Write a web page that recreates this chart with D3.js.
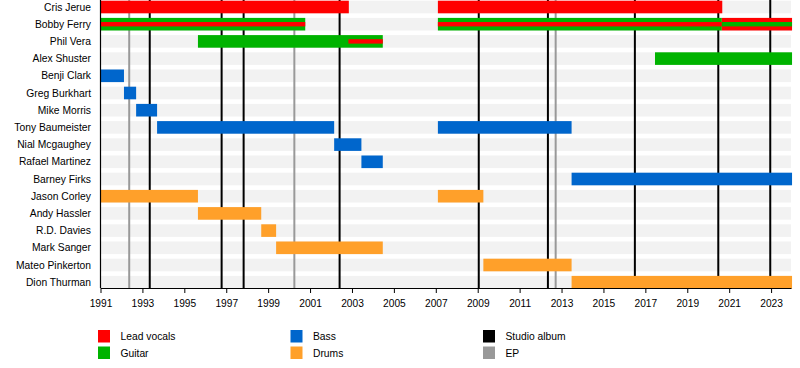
<!DOCTYPE html>
<html>
<head>
<meta charset="utf-8">
<script src="https://cdn.jsdelivr.net/npm/d3@7"></script>
<style>
  body { margin: 0; background: #fff; }
  text { font-family: "Liberation Sans", Arial, sans-serif; }
</style>
</head>
<body>
<div id="chart"></div>
<script>
// Membres, dans l'ordre d'affichage
const members = [
  "Cris Jerue", "Bobby Ferry", "Phil Vera", "Alex Shuster", "Benji Clark",
  "Greg Burkhart", "Mike Morris", "Tony Baumeister", "Nial Mcgaughey",
  "Rafael Martinez", "Barney Firks", "Jason Corley", "Andy Hassler",
  "R.D. Davies", "Mark Sanger", "Mateo Pinkerton", "Dion Thurman"
];

const roles = ["Lead vocals", "Guitar", "Bass", "Drums"];
const roleColors = ["#ff0000", "#00b300", "#0066cc", "#ffa02a"];

// Périodes principales : [membre, rôle, début, fin]
const stints = [
  ["Cris Jerue", "Lead vocals", 1991, 2002.85],
  ["Cris Jerue", "Lead vocals", 2007.1, 2020.67],
  ["Bobby Ferry", "Guitar", 1991, 2000.77],
  ["Bobby Ferry", "Guitar", 2007.1, 2020.65],
  ["Bobby Ferry", "Lead vocals", 2020.65, 2024],
  ["Phil Vera", "Guitar", 1995.65, 2004.47],
  ["Alex Shuster", "Guitar", 2017.46, 2024],
  ["Benji Clark", "Bass", 1991, 1992.12],
  ["Greg Burkhart", "Bass", 1992.12, 1992.7],
  ["Mike Morris", "Bass", 1992.7, 1993.7],
  ["Tony Baumeister", "Bass", 1993.7, 2002.15],
  ["Tony Baumeister", "Bass", 2007.1, 2013.48],
  ["Nial Mcgaughey", "Bass", 2002.15, 2003.45],
  ["Rafael Martinez", "Bass", 2003.45, 2004.47],
  ["Barney Firks", "Bass", 2013.48, 2024],
  ["Jason Corley", "Drums", 1991, 1995.65],
  ["Jason Corley", "Drums", 2007.1, 2009.27],
  ["Andy Hassler", "Drums", 1995.65, 1998.67],
  ["R.D. Davies", "Drums", 1998.67, 1999.38],
  ["Mark Sanger", "Drums", 1999.38, 2004.47],
  ["Mateo Pinkerton", "Drums", 2009.27, 2013.48],
  ["Dion Thurman", "Drums", 2013.48, 2024]
];

// Rôles secondaires (bande fine au milieu)
const secondary = [
  ["Bobby Ferry", "Lead vocals", 1991, 2000.77],
  ["Bobby Ferry", "Lead vocals", 2007.1, 2020.65],
  ["Bobby Ferry", "Guitar", 2020.65, 2024],
  ["Phil Vera", "Lead vocals", 2002.83, 2004.47]
];

// Sorties
const studioAlbums = [1993.35, 1996.78, 1997.83, 2002.41, 2009.05, 2012.35, 2016.5, 2020.48, 2022.96];
const eps = [1992.37, 2000.25, 2012.72];

const tickYears = d3.range(1991, 2024, 2);
const legendItems = [
  ["Lead vocals", "#ff0000"], ["Guitar", "#00b300"],
  ["Bass", "#0066cc"], ["Drums", "#ffa02a"],
  ["Studio album", "#000000"], ["EP", "#999999"]
];

const width = 800;
const height = 368;
const plotLeft = 100.5;
const plotRight = 791;
const plotBottom = 288;
const barH = 12.6;

const svg = d3.select("#chart").append("svg")
  .attr("width", width)
  .attr("height", height);

const x = d3.scaleLinear().domain([1991, 2023.95]).range([plotLeft, plotRight]);
const y = d3.scaleBand().domain(members).range([-1.6, 290.8]);
const color = d3.scaleOrdinal().domain(roles).range(roleColors);
const cy = (m) => y(m) + y.bandwidth() / 2;

// Bandes de fond
svg.append("g").selectAll("rect")
  .data(members)
  .join("rect")
  .attr("x", plotLeft)
  .attr("width", plotRight - plotLeft)
  .attr("y", (d) => cy(d) - barH / 2)
  .attr("height", barH)
  .attr("fill", "#f2f2f2");

// Lignes verticales des sorties
svg.append("g").selectAll("line")
  .data(eps)
  .join("line")
  .attr("x1", (d) => x(d)).attr("x2", (d) => x(d))
  .attr("y1", 0).attr("y2", plotBottom)
  .attr("stroke", "#999").attr("stroke-width", 2);

svg.append("g").selectAll("line")
  .data(studioAlbums)
  .join("line")
  .attr("x1", (d) => x(d)).attr("x2", (d) => x(d))
  .attr("y1", 0).attr("y2", plotBottom)
  .attr("stroke", "#000").attr("stroke-width", 2);

// Barres principales
svg.append("g").selectAll("rect")
  .data(stints)
  .join("rect")
  .attr("x", (d) => x(d[2]))
  .attr("width", (d) => x(d[3]) - x(d[2]))
  .attr("y", (d) => cy(d[0]) - barH / 2)
  .attr("height", barH)
  .attr("fill", (d) => color(d[1]));

// Bandes secondaires
svg.append("g").selectAll("rect")
  .data(secondary)
  .join("rect")
  .attr("x", (d) => x(d[2]))
  .attr("width", (d) => x(d[3]) - x(d[2]))
  .attr("y", (d) => cy(d[0]) - 2.2)
  .attr("height", 4.4)
  .attr("fill", (d) => color(d[1]));

// Noms
svg.append("g").selectAll("text")
  .data(members)
  .join("text")
  .attr("x", 91)
  .attr("y", (d) => cy(d))
  .attr("dy", "0.35em")
  .attr("text-anchor", "end")
  .attr("font-size", "10.3px")
  .attr("fill", "#000")
  .text((d) => d);

// Axe des X
const xAxis = svg.append("g")
  .attr("transform", `translate(0,${plotBottom})`)
  .call(d3.axisBottom(x).tickValues(tickYears).tickFormat(d3.format("d")).tickSize(5).tickSizeOuter(0));
xAxis.select(".domain").attr("stroke", "#000");
xAxis.selectAll("text")
  .attr("font-size", "10.2px")
  .attr("font-family", "Liberation Sans, Arial, sans-serif")
  .attr("dy", "1.05em")
  .attr("fill", "#000");

// Axe vertical gauche
svg.append("line")
  .attr("x1", plotLeft).attr("x2", plotLeft)
  .attr("y1", 0).attr("y2", plotBottom)
  .attr("stroke", "#000").attr("stroke-width", 1.2);

// Légende
const legend = svg.append("g").selectAll("g")
  .data(legendItems)
  .join("g")
  .attr("transform", (d, i) => `translate(${98 + Math.floor(i / 2) * 192.5},${330 + (i % 2) * 16.5})`);

legend.append("rect")
  .attr("width", 12).attr("height", 12.5)
  .attr("fill", (d) => d[1]);

legend.append("text")
  .attr("x", 22.5).attr("y", 6.5)
  .attr("dy", "0.35em")
  .attr("font-size", "10.3px")
  .text((d) => d[0]);
</script>
</body>
</html>
